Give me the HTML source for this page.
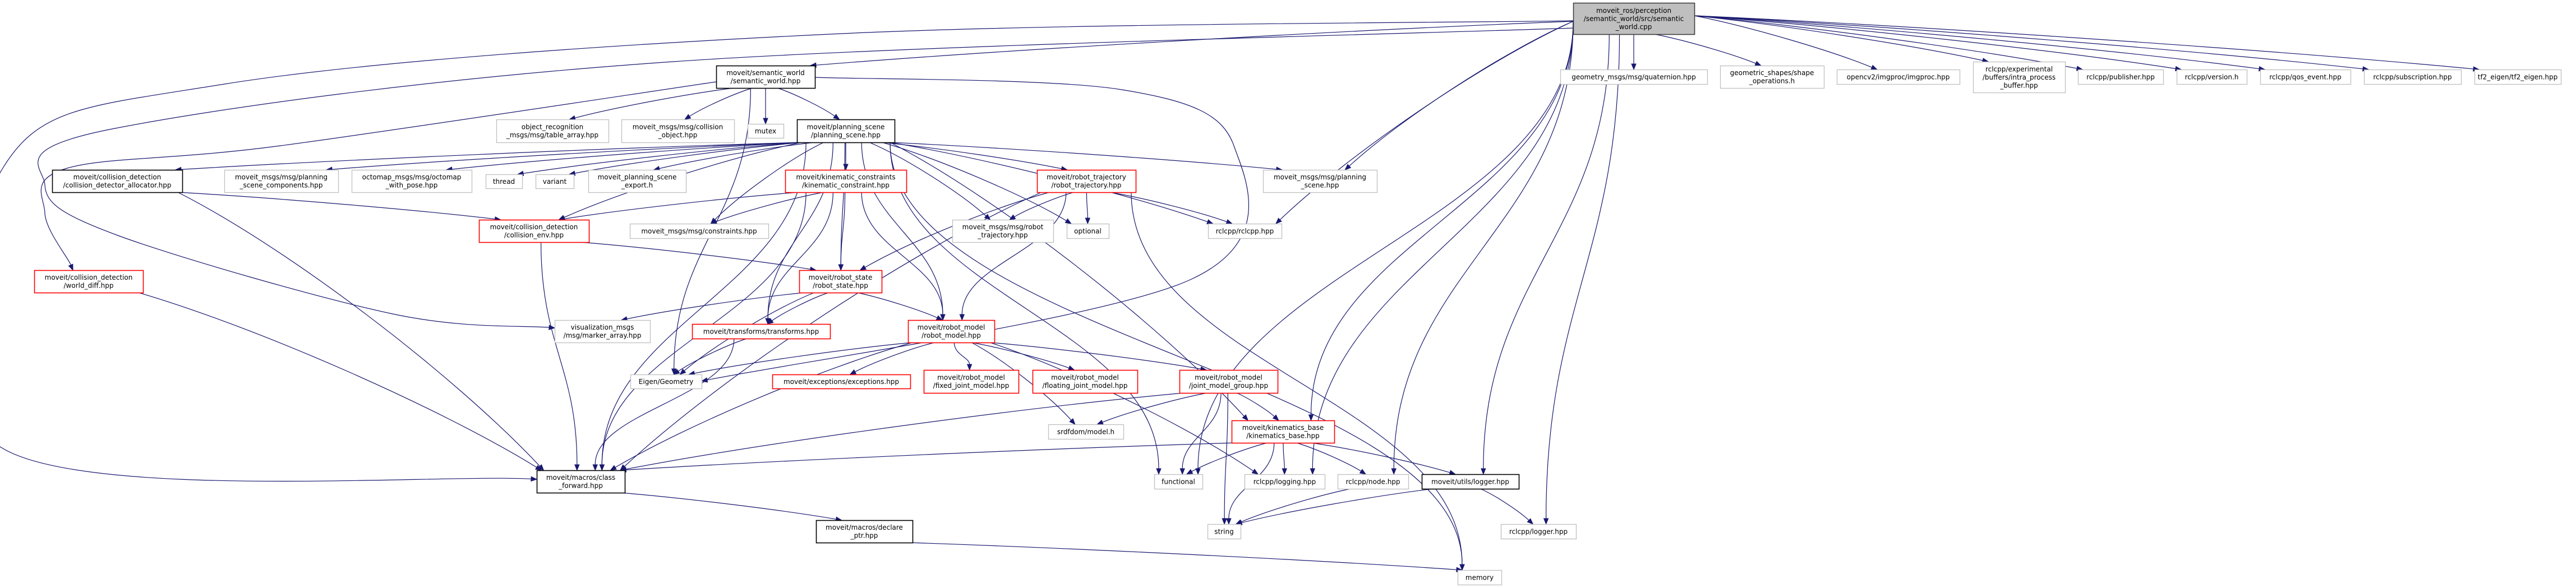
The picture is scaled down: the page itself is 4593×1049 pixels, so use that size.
<!DOCTYPE html>
<html><head><meta charset="utf-8"><style>
html,body{margin:0;padding:0;background:#fff;}
svg{display:block;}
text{font-family:"DejaVu Sans","Liberation Sans",sans-serif;font-size:12px;fill:#000;}
</style></head><body>
<svg id="g" xmlns="http://www.w3.org/2000/svg" width="4593" height="1049" viewBox="0 0 4593 1049">
<g id="edges" fill="none" stroke="#191970" stroke-width="1.2"></g>
<g id="heads" fill="#191970" stroke="#191970"></g>
<g id="nodes"></g>
</svg>
<script>
var N={
main:[2805,5,3021,61,'m',['moveit_ros/perception','/semantic_world/src/semantic','_world.cpp']],
sw:[1277,117,1453,157,'b',['moveit/semantic_world','/semantic_world.hpp']],
objrec:[885,213,1085,254,'g',['object_recognition','_msgs/msg/table_array.hpp']],
colobj:[1108,213,1309,254,'g',['moveit_msgs/msg/collision','_object.hpp']],
mutex:[1333,221,1397,246,'g',['mutex']],
ps:[1421,213,1595,254,'b',['moveit/planning_scene','/planning_scene.hpp']],
quat:[2782,124,3044,150,'g',['geometry_msgs/msg/quaternion.hpp']],
shapes:[3067,117,3252,157,'g',['geometric_shapes/shape','_operations.h']],
opencv:[3275,124,3494,150,'g',['opencv2/imgproc/imgproc.hpp']],
exper:[3518,110,3682,165,'g',['rclcpp/experimental','/buffers/intra_process','_buffer.hpp']],
pub:[3705,124,3857,150,'g',['rclcpp/publisher.hpp']],
ver:[3881,124,4006,150,'g',['rclcpp/version.h']],
qos:[4030,124,4191,150,'g',['rclcpp/qos_event.hpp']],
sub:[4215,124,4388,150,'g',['rclcpp/subscription.hpp']],
tf2:[4412,124,4566,150,'g',['tf2_eigen/tf2_eigen.hpp']],
alloc:[93,303,325,343,'b',['moveit/collision_detection','/collision_detector_allocator.hpp']],
psc:[400,303,603,343,'g',['moveit_msgs/msg/planning','_scene_components.hpp']],
octo:[627,303,841,343,'g',['octomap_msgs/msg/octomap','_with_pose.hpp']],
thread:[866,311,931,336,'g',['thread']],
variant:[955,311,1023,336,'g',['variant']],
pse:[1049,303,1223,343,'g',['moveit_planning_scene','_export.h']],
kc:[1400,303,1616,343,'r',['moveit/kinematic_constraints','/kinematic_constraint.hpp']],
rt:[1849,303,2025,343,'r',['moveit/robot_trajectory','/robot_trajectory.hpp']],
mpsc:[2252,303,2455,343,'g',['moveit_msgs/msg/planning','_scene.hpp']],
colenv:[854,392,1050,432,'r',['moveit/collision_detection','/collision_env.hpp']],
cons:[1123,399,1370,425,'g',['moveit_msgs/msg/constraints.hpp']],
mrt:[1698,392,1878,432,'g',['moveit_msgs/msg/robot','_trajectory.hpp']],
opt:[1902,399,1977,425,'g',['optional']],
rclcpp:[2154,399,2285,425,'g',['rclcpp/rclcpp.hpp']],
wdiff:[61,482,255,522,'r',['moveit/collision_detection','/world_diff.hpp']],
rs:[1425,482,1572,522,'r',['moveit/robot_state','/robot_state.hpp']],
vis:[989,571,1159,611,'g',['visualization_msgs','/msg/marker_array.hpp']],
tf:[1234,578,1480,604,'r',['moveit/transforms/transforms.hpp']],
rm:[1619,571,1773,611,'r',['moveit/robot_model','/robot_model.hpp']],
eig:[1124,668,1251,693,'g',['Eigen/Geometry']],
exc:[1377,668,1623,693,'r',['moveit/exceptions/exceptions.hpp']],
fixed:[1647,660,1816,701,'r',['moveit/robot_model','/fixed_joint_model.hpp']],
float:[1841,660,2028,701,'r',['moveit/robot_model','/floating_joint_model.hpp']],
jmg:[2103,660,2278,701,'r',['moveit/robot_model','/joint_model_group.hpp']],
srdf:[1869,757,2003,783,'g',['srdfdom/model.h']],
kb:[2196,750,2379,790,'r',['moveit/kinematics_base','/kinematics_base.hpp']],
cf:[957,839,1114,879,'b',['moveit/macros/class','_forward.hpp']],
func:[2058,846,2144,872,'g',['functional']],
log:[2219,846,2362,872,'g',['rclcpp/logging.hpp']],
node:[2385,846,2511,872,'g',['rclcpp/node.hpp']],
ulog:[2535,846,2708,872,'b',['moveit/utils/logger.hpp']],
dp:[1455,928,1627,968,'b',['moveit/macros/declare','_ptr.hpp']],
str:[2153,935,2212,961,'g',['string']],
rlog:[2676,935,2810,961,'g',['rclcpp/logger.hpp']],
mem:[2599,1017,2677,1043,'g',['memory']]
};
var E=[
['main','sw'],['main','quat'],['main','shapes'],['main','opencv'],['main','exper'],['main','pub'],['main','ver'],['main','qos'],['main','sub'],['main','tf2'],
['main','mpsc'],['main','rclcpp'],['main','node'],['main','log'],['main','ulog'],['main','rlog'],['main','kb'],['main','func'],
['sw','objrec'],['sw','colobj'],['sw','mutex'],['sw','ps'],['sw','eig'],
['ps','alloc'],['ps','psc'],['ps','octo'],['ps','thread'],['ps','variant'],['ps','pse'],['ps','kc'],['ps','rt'],['ps','mpsc'],['ps','colenv'],['ps','cons'],['ps','mrt'],['ps','opt'],['ps','rclcpp'],['ps','rs'],['ps','rm'],['ps','tf'],['ps','cf'],['ps','mem'],['ps','kb'],['ps','func'],
['alloc','colenv'],['alloc','cf'],['colenv','rs'],['colenv','cf'],['wdiff','cf'],
['kc','cons'],['kc','rs'],['kc','rm'],['kc','tf'],['kc','cf'],['kc','colenv'],
['rt','mrt'],['rt','opt'],['rt','rclcpp'],['rt','rs'],['rt','rm'],['rt','mem'],['rt','cf'],
['rs','tf'],['rs','rm'],['rs','vis'],['rs','eig'],
['tf','eig'],['tf','cf'],
['rm','eig'],['rm','exc'],['rm','fixed'],['rm','float'],['rm','jmg'],['rm','srdf'],['rm','cf'],['rm','log'],
['jmg','srdf'],['jmg','func'],['jmg','str'],['jmg','kb'],['jmg','cf'],
['kb','cf'],['kb','func'],['kb','str'],['kb','log'],['kb','node'],['kb','ulog'],
['cf','dp'],['dp','mem'],['ulog','rlog'],['ulog','str'],['node','str']
];
/* routed edges: explicit point lists */
var R=[
[[2805,37],[1500,60],[400,150],[5,300],[5,800],[957,855]],
[[2805,50],[1200,110],[200,230],[80,330],[210,420],[700,560],[989,585]],
[[1277,146],[500,260],[120,300],[80,380],[125,470],[130,482]],
[[1453,138],[2000,160],[2200,260],[2120,500],[1251,680]]
];
var NS='http://www.w3.org/2000/svg';
function el(t,a,p){var e=document.createElementNS(NS,t);for(var k in a)e.setAttribute(k,a[k]);p.appendChild(e);return e;}
var gn=document.getElementById('nodes'),ge=document.getElementById('edges'),gh=document.getElementById('heads');
for(var k in N){var n=N[k];var st={g:'#bfbfbf',b:'#000',r:'#ff0000',m:'#404040'}[n[4]];
el('rect',{x:n[0]+.5,y:n[1]+.5,width:n[2]-n[0],height:n[3]-n[1],fill:n[4]=='m'?'#bfbfbf':'#fff',stroke:st,'stroke-width':n[4]=='g'?1.3:1.6},gn);
var L=n[5],cx=(n[0]+n[2])/2,cy=(n[1]+n[3])/2,lh=14.5;
for(var i=0;i<L.length;i++){var t=el('text',{x:cx,y:cy+(i-(L.length-1)/2)*lh+4.3,'text-anchor':'middle'},gn);t.textContent=L[i];}}
function clamp(v,a,b){return Math.max(a,Math.min(b,v));}
function head(ex,ey,c2x,c2y){var dx=ex-c2x,dyy=ey-c2y,len=Math.sqrt(dx*dx+dyy*dyy)||1;dx/=len;dyy/=len;
var bx=ex-dx*10,by=ey-dyy*10,px=-dyy,py=dx;
el('polygon',{points:ex+','+ey+' '+(bx+px*4)+','+(by+py*4)+' '+(bx-px*4)+','+(by-py*4)},gh);return [bx,by];}
E.forEach(function(e){var s=N[e[0]],t=N[e[1]];
var scx=(s[0]+s[2])/2,tcx=(t[0]+t[2])/2,sx,sy,ex,ey,c1x,c1y,c2x,c2y;
if(t[1]>=s[3]-2){
 sx=clamp(scx+(tcx-scx)*0.15,s[0]+8,s[2]-8);sy=s[3];
 if(e[0]=='main'&&Math.abs(tcx-scx)>300){sx=tcx>scx?s[2]:s[0];sy=(s[1]+s[3])/2+(tcx>scx?-5:5);}
 ex=clamp(tcx+(scx-tcx)*0.08,t[0]+8,t[2]-8);ey=t[1];
 var dy=ey-sy;c1x=sx;c1y=sy+dy*0.45;c2x=ex;c2y=ey-dy*0.45;
 if(Math.abs(tcx-scx)>dy*1.5){c1x=sx+(ex-sx)*0.3;c1y=sy+dy*0.2;c2x=ex-(ex-sx)*0.25;c2y=ey-dy*0.35;}
}else{
 var right=tcx>scx;sx=right?s[2]:s[0];sy=(s[1]+s[3])/2;ex=right?t[0]:t[2];ey=(t[1]+t[3])/2;
 c1x=sx+(ex-sx)*0.4;c1y=sy;c2x=ex-(ex-sx)*0.4;c2y=ey;}
var b=head(ex,ey,c2x,c2y);
el('path',{d:'M'+sx+','+sy+' C'+c1x+','+c1y+' '+c2x+','+c2y+' '+b[0]+','+b[1]},ge);
});
R.forEach(function(p){var n=p.length,ex=p[n-1][0],ey=p[n-1][1];
var b=head(ex,ey,p[n-2][0],p[n-2][1]);p=p.slice();p[n-1]=b;
var d='M'+p[0][0]+','+p[0][1];
for(var i=0;i<n-1;i++){var p0=p[i>0?i-1:0],p1=p[i],p2=p[i+1],p3=p[i+2<n?i+2:n-1];
d+=' C'+(p1[0]+(p2[0]-p0[0])/6)+','+(p1[1]+(p2[1]-p0[1])/6)+' '+(p2[0]-(p3[0]-p1[0])/6)+','+(p2[1]-(p3[1]-p1[1])/6)+' '+p2[0]+','+p2[1];}
el('path',{d:d},ge);});
</script>
</body></html>
